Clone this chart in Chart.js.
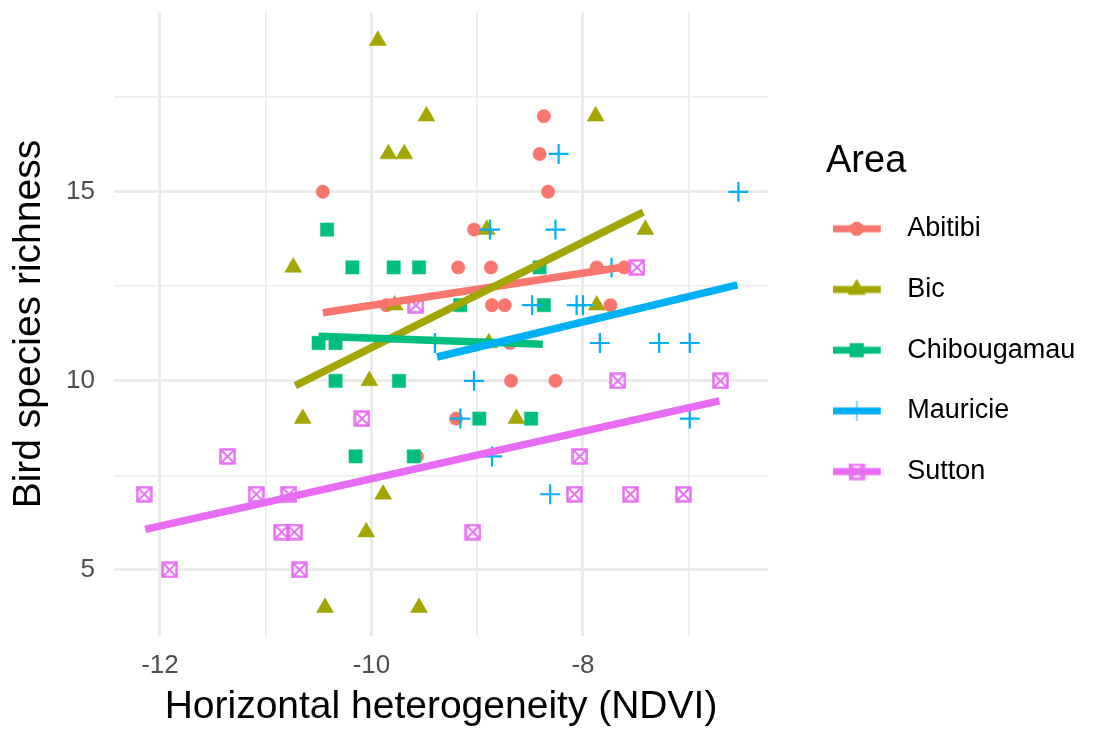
<!DOCTYPE html>
<html>
<head>
<meta charset="utf-8">
<script src="https://cdn.jsdelivr.net/npm/chart.js@4.4.0/dist/chart.umd.min.js"></script>
<style>
  html, body { margin: 0; padding: 0; background: #fff; }
</style>
</head>
<body>
<canvas id="chart" width="1107" height="734"></canvas>
<script>
// Areas and the default ggplot hue colours
const areas = ['Abitibi', 'Bic', 'Chibougamau', 'Mauricie', 'Sutton']
const colors = ['#F8766D', '#A3A500', '#00BF7D', '#00B0F6', '#E76BF3']

// NDVI heterogeneity (x) and bird species richness (y) for each area
const abitibiX = [-10.46, -8.37, -8.41, -8.33, -9.03, -9.18, -8.87, -7.87, -7.61, -9.86, -8.86, -8.74, -7.74, -8.69, -8.68, -8.26, -9.20, -9.57]
const abitibiY = [15, 17, 16, 15, 14, 13, 13, 13, 13, 12, 12, 12, 12, 11, 10, 10, 9, 8]

const bicX = [-9.94, -9.48, -7.88, -9.84, -9.69, -8.91, -7.41, -10.74, -9.78, -7.87, -8.89, -10.02, -10.65, -8.63, -9.89, -10.05, -10.44, -9.55]
const bicY = [19, 17, 17, 16, 16, 14, 14, 13, 12, 12, 11, 10, 9, 9, 7, 6, 4, 4]

const chibougamauX = [-10.42, -10.18, -9.79, -9.55, -8.41, -9.16, -8.37, -10.50, -10.34, -10.34, -9.74, -8.98, -8.49, -10.15, -9.60]
const chibougamauY = [14, 13, 13, 13, 13, 12, 12, 11, 11, 10, 10, 9, 9, 8, 8]

const mauricieX = [-8.23, -6.53, -8.88, -8.26, -7.73, -8.48, -8.06, -8.00, -9.40, -7.84, -7.28, -6.99, -9.03, -9.16, -6.99, -8.86, -8.31]
const mauricieY = [16, 15, 14, 14, 13, 12, 12, 12, 11, 11, 11, 11, 10, 9, 9, 8, 7]

const suttonX = [-7.49, -9.58, -7.67, -6.70, -10.09, -11.36, -8.03, -12.15, -11.09, -10.78, -8.08, -7.55, -7.05, -10.85, -10.73, -9.04, -11.91, -10.68]
const suttonY = [13, 12, 10, 10, 9, 8, 8, 7, 7, 7, 7, 7, 7, 6, 6, 6, 5, 5]

// linear fit lines (lm), start and end of each one
const fitStartX = [-10.46, -10.72, -10.50, -9.38, -12.14]
const fitStartY = [11.80, 9.87, 11.18, 10.63, 6.07]
const fitEndX = [-7.57, -7.43, -8.38, -6.54, -6.71]
const fitEndY = [13.03, 14.46, 10.97, 12.54, 9.47]

// axis ticks
const xTicks = [-12, -11, -10, -9, -8, -7]
const yTicks = [5, 7.5, 10, 12.5, 15, 17.5]

const family = '"Liberation Sans", Arial, sans-serif'
const xs = [abitibiX, bicX, chibougamauX, mauricieX, suttonX]
const ys = [abitibiY, bicY, chibougamauY, mauricieY, suttonY]

// square with a cross in it (ggplot shape 7)
function boxCross(color) {
  const c = document.createElement('canvas')
  c.width = 17; c.height = 17
  const g = c.getContext('2d')
  g.strokeStyle = color
  g.lineWidth = 2.4
  g.strokeRect(1.5, 1.5, 14, 14)
  g.lineWidth = 1.8
  g.beginPath()
  g.moveTo(1.5, 1.5); g.lineTo(15.5, 15.5)
  g.moveTo(15.5, 1.5); g.lineTo(1.5, 15.5)
  g.stroke()
  return c
}
const suttonMark = boxCross(colors[4])

const pointStyles = ['circle', 'triangle', 'rect', 'cross', suttonMark]
const pointSizes = [6.7, 9.8, 9.4, 10, 8]

// legend keys: point with the fitted line over it
function legendIcon(i) {
  const c = document.createElement('canvas')
  c.width = 61; c.height = 22
  const g = c.getContext('2d')
  g.fillStyle = colors[i]
  g.strokeStyle = colors[i]
  if (i === 4) {
    g.drawImage(suttonMark, 24 - 8.5, 11 - 8.5)
  } else {
    Chart.helpers.drawPoint(g, {pointStyle: pointStyles[i], radius: pointSizes[i], borderWidth: i === 3 ? 2.2 : 0.5, rotation: 0}, 24, 11)
  }
  g.lineWidth = 7
  g.beginPath()
  g.moveTo(0, 11); g.lineTo(48, 11)
  g.stroke()
  return c
}

const legendPad = 6.7
const iconWidth = 61
const meas = document.createElement('canvas').getContext('2d')
meas.font = '27px ' + family
const maxText = Math.max(...areas.map(a => meas.measureText(a).width))
const legendWidth = legendPad + iconWidth + 27 / 2 + maxText + 10
const padRight = 1107 - 768 - 58 - legendWidth

const datasets = []
areas.forEach((name, i) => {
  datasets.push({
    label: name,
    data: xs[i].map((x, j) => ({x: x, y: ys[i][j]})),
    pointStyle: pointStyles[i],
    pointRadius: pointSizes[i],
    pointHoverRadius: pointSizes[i],
    backgroundColor: colors[i],
    borderColor: colors[i],
    borderWidth: i === 3 ? 2.2 : 0.5,
    order: 20 - i
  })
})
areas.forEach((name, i) => {
  datasets.push({
    label: name + ' fit',
    data: [{x: fitStartX[i], y: fitStartY[i]}, {x: fitEndX[i], y: fitEndY[i]}],
    showLine: true,
    pointRadius: 0,
    borderColor: colors[i],
    borderWidth: 7.5,
    order: 10 - i
  })
})

new Chart(document.getElementById('chart'), {
  type: 'scatter',
  data: { datasets: datasets },
  options: {
    responsive: false,
    animation: false,
    events: [],
    devicePixelRatio: 1,
    layout: { padding: { top: 10, right: padRight, bottom: 0, left: 0 } },
    scales: {
      x: {
        type: 'linear',
        position: 'bottom',
        min: -12.435,
        max: -6.25,
        afterBuildTicks: s => { s.ticks = xTicks.map(v => ({value: v})) },
        afterFit: s => { s.height = 98 },
        ticks: {
          autoSkip: false,
          maxRotation: 0,
          padding: 0,
          color: '#4D4D4D',
          font: { family: family, size: 26 },
          callback: v => (v % 2 === 0 ? String(v) : '')
        },
        grid: {
          color: '#EBEBEB',
          lineWidth: ctx => (ctx.tick && ctx.tick.value % 2 === 0 ? 3 : 1.6),
          drawTicks: true,
          tickLength: 14,
          tickColor: 'rgba(0,0,0,0)'
        },
        border: { display: false },
        title: {
          display: true,
          text: 'Horizontal heterogeneity (NDVI)',
          color: '#000',
          font: { family: family, size: 39 },
          padding: { top: 0, bottom: 3 }
        }
      },
      y: {
        type: 'linear',
        position: 'left',
        min: 3.25,
        max: 19.75,
        afterBuildTicks: s => { s.ticks = yTicks.map(v => ({value: v})) },
        afterFit: s => { s.width = 114 },
        ticks: {
          autoSkip: false,
          padding: 0,
          color: '#4D4D4D',
          font: { family: family, size: 26, lineHeight: '20px' },
          callback: v => (v % 5 === 0 ? String(v) : '')
        },
        grid: {
          color: '#EBEBEB',
          lineWidth: ctx => (ctx.tick && ctx.tick.value % 5 === 0 ? 3 : 1.6),
          drawTicks: true,
          tickLength: 19,
          tickColor: 'rgba(0,0,0,0)'
        },
        border: { display: false },
        title: {
          display: true,
          text: 'Bird species richness',
          color: '#000',
          font: { family: family, size: 39 },
          padding: { top: 6, bottom: 0 }
        }
      },
      // hidden axis, only keeps the gap between the panel and the legend
      gap: {
        type: 'linear',
        position: 'right',
        display: false,
        afterFit: s => { s.width = 58 }
      }
    },
    plugins: {
      tooltip: { enabled: false },
      legend: {
        position: 'right',
        align: 'start',
        title: {
          display: true,
          text: 'Area',
          color: '#000',
          position: 'start',
          font: { family: family, size: 38 },
          padding: { top: 133, bottom: 20 }
        },
        labels: {
          usePointStyle: true,
          pointStyleWidth: iconWidth,
          padding: legendPad,
          color: '#000',
          font: { family: family, size: 27, lineHeight: '54px' },
          generateLabels: () => areas.map((name, i) => ({
            text: [name],
            pointStyle: legendIcon(i),
            fillStyle: colors[i],
            strokeStyle: colors[i],
            lineWidth: 0,
            hidden: false,
            datasetIndex: i
          }))
        }
      }
    }
  }
})
</script>
</body>
</html>
